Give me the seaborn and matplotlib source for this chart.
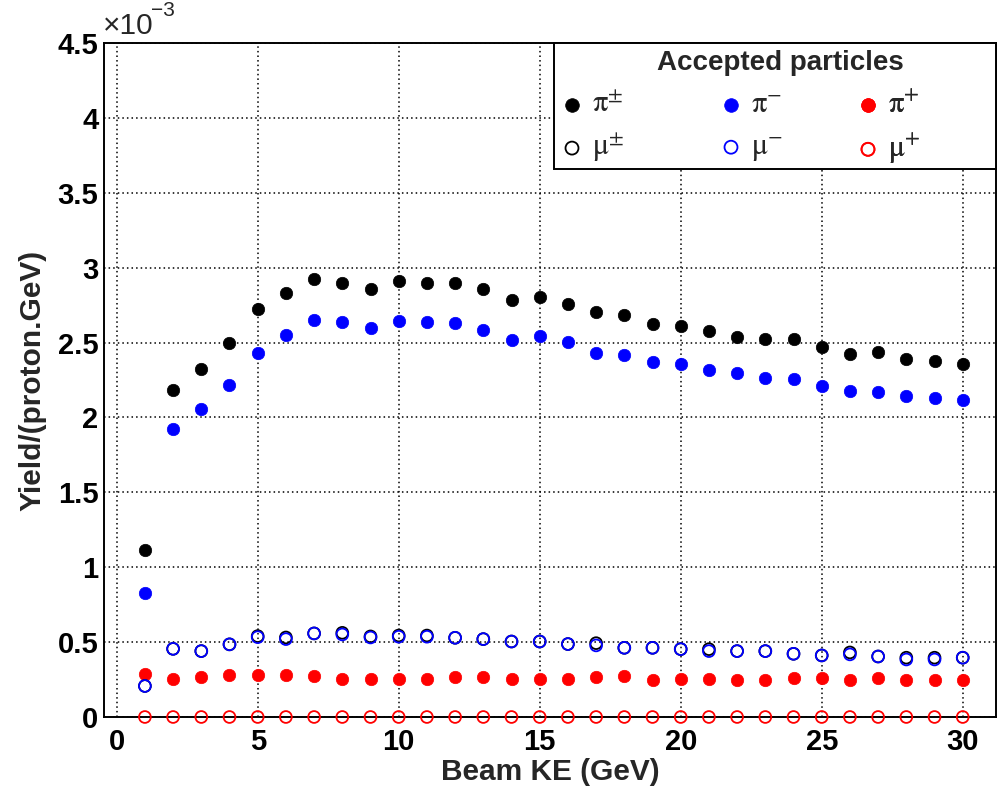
import matplotlib
matplotlib.use("Agg")
import matplotlib.pyplot as plt
import seaborn as sns
import numpy as np
import pandas as pd
from matplotlib.ticker import MultipleLocator
from matplotlib.patches import Rectangle

# ---------------- data (yield in units of 1e-3 per proton per GeV) ----------------
beam_ke = list(range(1, 31))

pi_pm = [1.113, 2.186, 2.325, 2.499, 2.725, 2.833, 2.927, 2.900, 2.860, 2.910,
         2.900, 2.900, 2.860, 2.786, 2.802, 2.760, 2.702, 2.687, 2.627, 2.609,
         2.578, 2.540, 2.527, 2.527, 2.467, 2.424, 2.436, 2.391, 2.376, 2.358]
pi_minus = [0.827, 1.922, 2.058, 2.215, 2.431, 2.549, 2.649, 2.635, 2.600, 2.642,
            2.635, 2.629, 2.584, 2.518, 2.542, 2.502, 2.433, 2.416, 2.367, 2.356,
            2.318, 2.298, 2.264, 2.258, 2.207, 2.176, 2.173, 2.140, 2.127, 2.116]
pi_plus = [0.287, 0.256, 0.264, 0.282, 0.282, 0.282, 0.271, 0.256, 0.256, 0.256,
           0.256, 0.269, 0.269, 0.256, 0.251, 0.256, 0.267, 0.271, 0.249, 0.256,
           0.256, 0.249, 0.249, 0.260, 0.260, 0.249, 0.260, 0.249, 0.249, 0.249]
mu_pm = [0.207, 0.455, 0.440, 0.485, 0.540, 0.531, 0.558, 0.562, 0.538, 0.544,
         0.544, 0.529, 0.520, 0.504, 0.504, 0.487, 0.493, 0.462, 0.462, 0.453,
         0.453, 0.440, 0.440, 0.422, 0.411, 0.431, 0.404, 0.396, 0.396, 0.396]
mu_minus = [0.207, 0.455, 0.440, 0.485, 0.533, 0.520, 0.558, 0.551, 0.531, 0.536,
            0.536, 0.529, 0.520, 0.504, 0.504, 0.487, 0.478, 0.462, 0.462, 0.453,
            0.440, 0.440, 0.440, 0.422, 0.411, 0.418, 0.404, 0.384, 0.384, 0.396]
mu_plus = [0.0] * 30

series_labels = [r"$\mathrm{\pi}^{\pm}$", r"$\mathrm{\pi}^{-}$", r"$\mathrm{\pi}^{+}$",
                 r"$\mathrm{\mu}^{\pm}$", r"$\mathrm{\mu}^{-}$", r"$\mathrm{\mu}^{+}$"]
series_colors = ["black", "blue", "red", "black", "blue", "red"]
series_filled = [True, True, True, False, False, False]
series_values = [pi_pm, pi_minus, pi_plus, mu_pm, mu_minus, mu_plus]

x_label = "Beam KE (GeV)"
y_label = "Yield/(proton.GeV)"
legend_title = "Accepted particles"

# ---------------- style ----------------
sns.set_style("white")
plt.rcParams["font.family"] = ["Liberation Sans", "DejaVu Sans"]
plt.rcParams["mathtext.fontset"] = "stix"

fig = plt.figure(figsize=(9.98, 7.88), dpi=100)
W, H = 998, 788
L, R, T, B = 104, 996, 43, 717
ax = fig.add_axes([L / W, 1 - B / H, (R - L) / W, (B - T) / H])

handles = []
for lab, col, filled, vals in zip(series_labels, series_colors, series_filled, series_values):
    df = pd.DataFrame({"x": beam_ke, "y": vals})
    if filled:
        sns.scatterplot(data=df, x="x", y="y", ax=ax, s=80, color=col,
                        edgecolor=col, linewidth=0.5, marker="o", clip_on=False,
                        zorder=3)
    else:
        sns.scatterplot(data=df, x="x", y="y", ax=ax, s=72, facecolors="none",
                        edgecolor=col, linewidth=1.3, marker="o", clip_on=False,
                        zorder=4)
    handles.append(ax.collections[-1])

ax.set_xlim(-0.45, 31.18)
ax.set_ylim(0, 4.5)

# ticks
ax.xaxis.set_major_locator(MultipleLocator(5))
ax.xaxis.set_minor_locator(MultipleLocator(1))
ax.yaxis.set_major_locator(MultipleLocator(0.5))
ax.yaxis.set_minor_locator(MultipleLocator(0.1))
ax.yaxis.set_major_formatter(matplotlib.ticker.FuncFormatter(
    lambda v, p: ("%g" % round(v, 2))))
ax.tick_params(axis="both", which="both", direction="in", top=False, right=False,
               width=1.2, colors="black")
ax.tick_params(axis="y", which="major", length=20, pad=4, labelsize=21)
ax.tick_params(axis="y", which="minor", length=10)
ax.tick_params(axis="x", which="major", length=14.5, pad=8, labelsize=21)
ax.tick_params(axis="x", which="minor", length=8)
for lbl in ax.get_xticklabels() + ax.get_yticklabels():
    lbl.set_fontweight("bold")

ax.grid(True, which="major", color="black", linestyle=(0, (1, 2)), linewidth=1.1)
ax.set_axisbelow(True)
for sp in ax.spines.values():
    sp.set_linewidth(1.4)
    sp.set_color("black")

ax.set_xlabel(x_label, fontsize=21.5, fontweight="bold", labelpad=1)
ax.set_ylabel(y_label, fontsize=21.5, fontweight="bold", labelpad=8)

# exponent label
fig.text(103 / W, 1 - 34 / H, "\u00d710", fontsize=21.5, ha="left",
         va="baseline", fontweight="normal")
fig.text(151 / W, 1 - 16 / H, "\u22123", fontsize=15, ha="left",
         va="baseline", fontweight="normal")

# legend box
def fx(px):
    return (px - L) / (R - L)

def fy(py):
    return (B - py) / (B - T)

box = Rectangle((fx(554), fy(169)), fx(996) - fx(554), fy(43) - fy(169),
                transform=ax.transAxes, facecolor="white", edgecolor="black",
                linewidth=1.4, zorder=10, clip_on=False)
ax.add_patch(box)
ax.text(fx(780), fy(63), legend_title, transform=ax.transAxes, ha="center",
        va="center", fontsize=20, fontweight="bold", zorder=11)

# one legend per column (pi row on top, mu row below)
col_marker_px = [572, 731, 868]
hl = 0.9
fs = 22
hl_px = hl * fs * 100 / 72
for j, mx in enumerate(col_marker_px):
    lg = ax.legend([handles[j], handles[j + 3]],
                   [series_labels[j], series_labels[j + 3]],
                   loc="upper left",
                   bbox_to_anchor=(fx(mx - hl_px / 2), fy(90)),
                   frameon=False, prop={"size": fs, "weight": "normal"},
                   handlelength=hl, markerscale=1.1,
                   handletextpad=0.2, labelspacing=0.4, borderpad=0,
                   borderaxespad=0)
    lg.set_zorder(12)
    ax.add_artist(lg)

fig.savefig("out.png", dpi=100)
